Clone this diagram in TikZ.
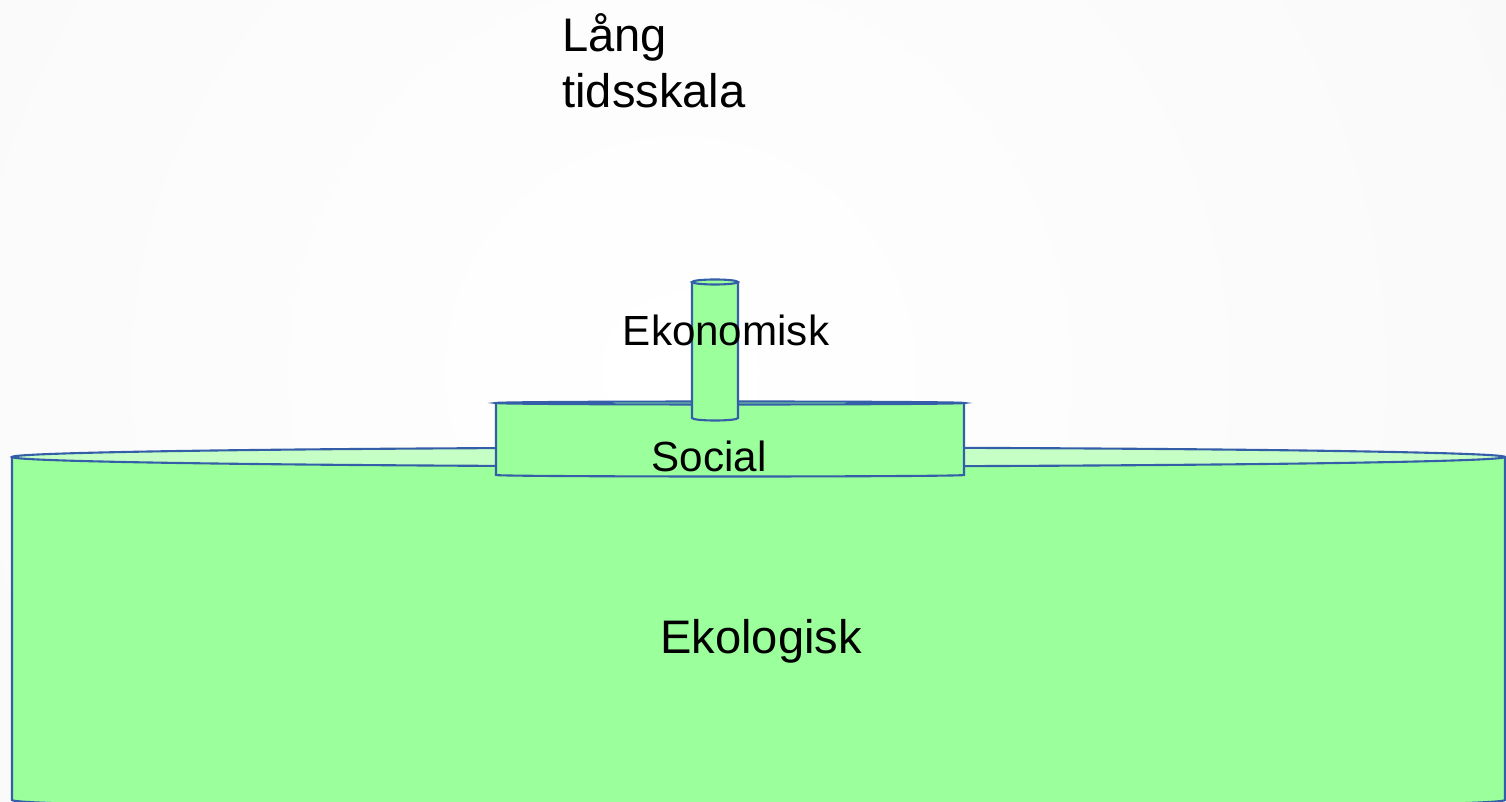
\documentclass[tikz,border=0pt]{standalone}
\usepackage{fontspec}
\setmainfont{Liberation Sans}
\definecolor{fillgreen}{RGB}{155,255,155}
\definecolor{lidgreen}{RGB}{198,255,198}
\definecolor{rimblue}{RGB}{52,94,168}

\begin{document}
\begin{tikzpicture}[x=0.02cm, y=0.02cm,
		tube/.style={draw=rimblue, line width=1.2pt, fill=fillgreen},
		lid/.style={tube, fill=lidgreen},
		every node/.style={font=\fontsize{24}{29}\selectfont, inner sep=0pt}]
	% Background
	\begin{scope}
		\clip (0,0) rectangle (1506,801);
		\shade[inner color=white, outer color=gray!9] (680,430) circle (1800);
	\end{scope}
	\useasboundingbox (0,0) rectangle (1506,801);

	% Ekologisk
	\draw[tube] (12,344) -- (12,1) arc(180:360:746.5 and 9.5) -- (1505,344);
	\draw[lid] (758.5,344) ellipse (746.5 and 9.5);

	% Social
	\draw[tube] (496,398) -- (496,326) arc(180:360:234 and 1.5) -- (964,398);
	\draw[tube] (730,398) ellipse (234 and 1.5);

	% Ekonomisk
	\draw[tube] (692,519) -- (692,383) arc(180:360:23 and 2.5) -- (738,519);
	\draw[tube] (715,519) ellipse (23 and 2.5);

	% Labels
	\node[anchor=base] (ekonomisk) at (726,455) {Ekonomisk};
	\node[anchor=base] (social) at (709,329) {Social};
	\node[anchor=base, font=\fontsize{26.8}{31.8}\selectfont] (ekologisk) at (761,148) {Ekologisk};
	\node[anchor=north west, align=left, font=\fontsize{26.8}{31.8}\selectfont] (tidsskala) at (562,788) {Lång\\tidsskala};
\end{tikzpicture}
\end{document}
